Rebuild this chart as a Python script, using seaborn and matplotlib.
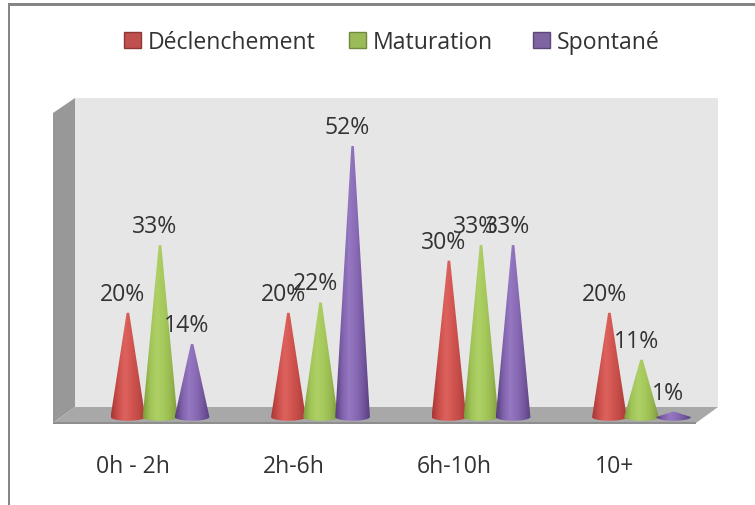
import numpy as np
import pandas as pd
import matplotlib
matplotlib.use('Agg')
import matplotlib.pyplot as plt
import seaborn as sns
from matplotlib.colors import LinearSegmentedColormap
from matplotlib.patches import Patch, Polygon
from matplotlib.transforms import Affine2D, ScaledTranslation

# Data
categories = ['0h - 2h', '2h-6h', '6h-10h', '10+']
declenchement = [20, 20, 30, 20]
maturation = [33, 22, 33, 11]
spontane = [14, 52, 33, 1]
series_names = ['Déclenchement', 'Maturation', 'Spontané']

W, H = 755, 506
sns.set_theme(style='white')
plt.rcParams['font.family'] = ['Open Sans', 'DejaVu Sans']
text_color = '#333333'

data = pd.DataFrame({
    'periode': categories * 3,
    'serie': [n for n in series_names for _ in categories],
    'valeur': declenchement + maturation + spontane,
})

fig = plt.figure(figsize=(W / 100, H / 100), dpi=100, facecolor='white')
px = Affine2D().scale(1 / W, -1 / H).translate(0, 1) + fig.transFigure


def backdrop(points, color, z=-2):
    fig.add_artist(Polygon(points, closed=True, facecolor=color, edgecolor='none',
                           transform=px, zorder=z))


# Frame of the slide and the 3D walls
backdrop([(8, 4), (755, 4), (755, 6.5), (8, 6.5)], '#858585')
backdrop([(7.5, 4), (10, 4), (10, 506), (7.5, 506)], '#858585')
backdrop([(75, 99), (718, 99), (718, 408), (75, 408)], '#e6e6e6')
backdrop([(53, 114), (75, 99), (75, 408), (53, 424)], '#989898')
backdrop([(75, 408), (718, 408), (696, 424), (53, 424)], '#a8a8a8')
backdrop([(53, 423.5), (696, 423.5), (696, 425.5), (53, 425.5)], '#8e8e8e')

ax = fig.add_axes([53 / W, 1 - 424 / H, (718 - 53) / W, (424 - 99) / H])
ax.patch.set_visible(False)

sns.barplot(data=data, x='periode', y='valeur', hue='serie', hue_order=series_names,
            order=categories, width=0.6, gap=0, legend=False, errorbar=None, ax=ax)

shades = [
    ['#a53734', '#cc4f4b', '#dd625e', '#d2554f', '#c04a46', '#a83a37'],
    ['#7f9c3c', '#a0c457', '#aed066', '#a6c95c', '#97b84f', '#80993d'],
    ['#553d7c', '#8061ab', '#9678c2', '#8a6bb6', '#7658a0', '#5a4182'],
]
legend_colors = ['#c0504d', '#9bbb59', '#8064a2']
legend_edges = ['#8c3836', '#71893f', '#5c4776']

for s, container in enumerate(ax.containers):
    cmap = LinearSegmentedColormap.from_list(series_names[s], shades[s])
    for bar in container:
        value = bar.get_height()
        cx = bar.get_x() + bar.get_width() / 2
        half = bar.get_width() * 0.54
        tip = bar.get_width() * 0.04
        bar.set_visible(False)
        # cone outline: blunt apex, then the rounded front of the base
        t = np.linspace(np.pi, 2 * np.pi, 40)
        outline = np.column_stack([cx + half * np.cos(t), 0.72 * np.sin(t)])
        outline = np.vstack([[cx + tip, value], [cx - tip, value], outline])
        cone = Polygon(outline, closed=True, facecolor='none', edgecolor='none',
                       transform=ax.transData)
        ax.add_patch(cone)
        shade = np.linspace(0, 1, 64).reshape(1, -1)
        im = ax.imshow(shade, cmap=cmap, aspect='auto', zorder=3 + s * 0.1,
                       extent=[cx - half, cx + half, -1, value + 0.2])
        im.set_clip_path(cone)
        # labels sit up and to the left of the apex
        ax.annotate(f'{value:.0f}%', (cx, value), xytext=(-3.8, 13.6), textcoords='offset points',
                    ha='center', va='center', fontsize=16.6, color=text_color, zorder=6)

# value 0 sits at y=418 px, one group is 160.5 px wide
ax.set_xlim((53 - 160) / 160.5, (718 - 160) / 160.5)
ax.set_ylim((418 - 424) / 5.21, (418 - 99) / 5.21)
ax.set_xlabel('')
ax.set_ylabel('')
ax.set_yticks([])
sns.despine(ax=ax, left=True, bottom=True)
ax.tick_params(axis='x', length=0, pad=22)
ax.set_xticks(range(len(categories)))
ax.set_xticklabels(categories, fontsize=16.6, color=text_color)
for label in ax.get_xticklabels():
    label.set_transform(label.get_transform() + ScaledTranslation(-27 / 100, 0, fig.dpi_scale_trans))

# one small legend per entry, the gaps between them are not even
for name, c, e, left in zip(series_names, legend_colors, legend_edges, [124, 349, 533]):
    fig.legend([Patch(facecolor=c, edgecolor=e, linewidth=1)], [name],
               loc='center left', bbox_to_anchor=(left / W, 1 - 43 / H),
               frameon=False, fontsize=16.6, handlelength=0.72, handleheight=0.72,
               handletextpad=0.3, borderpad=0, borderaxespad=0,
               labelcolor=text_color)

fig.savefig('out.png', dpi=100)
